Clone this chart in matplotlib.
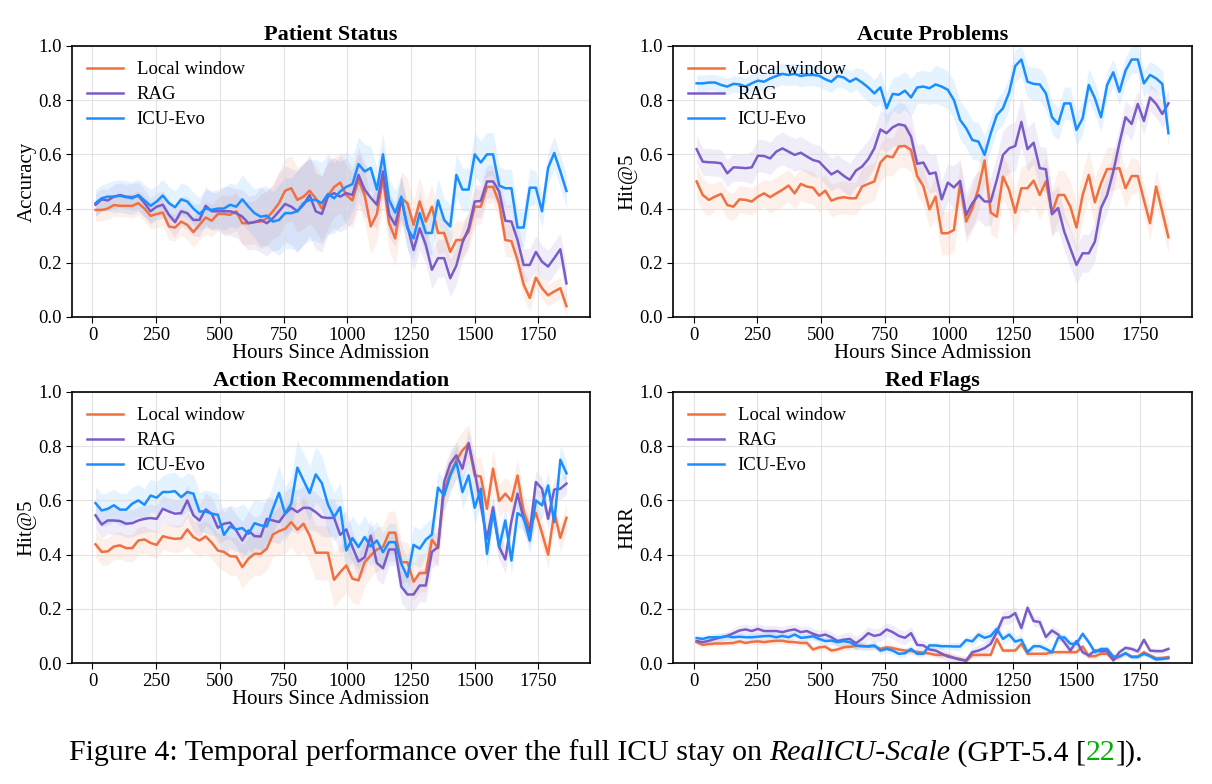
import numpy as np
import matplotlib
matplotlib.use("Agg")
import matplotlib.pyplot as plt

plt.rcParams['font.family'] = ['Liberation Serif', 'DejaVu Serif']

# 24h bins from admission
hours = np.arange(12, 1861, 24)
methods = ['Local window', 'RAG', 'ICU-Evo']
colors = ['#F0703F', '#7A5CC8', '#1A8EFF']

# Patient Status (accuracy)
ps_local = [0.395,0.395,0.40,0.413,0.41,0.41,0.41,0.42,0.40,0.373,
            0.38,0.385,0.334,0.33,0.352,0.34,0.313,0.34,0.367,0.355,
            0.38,0.38,0.377,0.39,0.346,0.346,0.35,0.352,0.364,0.39,
            0.42,0.466,0.475,0.432,0.444,0.466,0.438,0.40,0.447,0.479,
            0.496,0.45,0.43,0.506,0.45,0.334,0.38,0.51,0.346,0.29,
            0.438,0.42,0.34,0.426,0.352,0.407,0.31,0.31,0.24,0.284,
            0.284,0.315,0.407,0.407,0.48,0.48,0.42,0.284,0.28,0.21,
            0.12,0.07,0.145,0.106,0.08,0.094,0.106,0.04]
ps_rag = [0.414,0.434,0.43,0.444,0.45,0.444,0.442,0.447,0.42,0.39,
          0.407,0.414,0.377,0.35,0.39,0.383,0.358,0.358,0.41,0.39,
          0.39,0.39,0.39,0.383,0.37,0.346,0.35,0.358,0.346,0.364,
          0.39,0.417,0.407,0.39,0.414,0.45,0.39,0.38,0.444,0.457,
          0.444,0.457,0.45,0.524,0.47,0.44,0.414,0.537,0.377,0.34,
          0.434,0.334,0.247,0.327,0.266,0.174,0.217,0.217,0.143,0.19,
          0.275,0.327,0.426,0.428,0.5,0.5,0.463,0.355,0.352,0.284,
          0.192,0.192,0.24,0.204,0.186,0.217,0.25,0.124]
ps_evo = [0.42,0.438,0.444,0.444,0.447,0.442,0.438,0.45,0.43,0.41,
          0.426,0.448,0.42,0.405,0.434,0.426,0.40,0.38,0.40,0.395,
          0.40,0.40,0.414,0.407,0.434,0.407,0.383,0.37,0.374,0.352,
          0.358,0.383,0.383,0.39,0.42,0.432,0.432,0.42,0.454,0.438,
          0.463,0.48,0.49,0.564,0.537,0.55,0.47,0.6,0.432,0.385,
          0.444,0.327,0.29,0.383,0.31,0.31,0.43,0.358,0.334,0.524,
          0.47,0.47,0.6,0.57,0.6,0.6,0.485,0.475,0.475,0.33,
          0.33,0.477,0.477,0.39,0.55,0.605,0.537,0.465]

# Acute Problems (Hit@5)
ap_local = [0.50,0.45,0.432,0.444,0.454,0.413,0.407,0.434,0.432,0.426,
            0.444,0.456,0.442,0.456,0.469,0.485,0.456,0.491,0.481,0.477,
            0.448,0.466,0.429,0.438,0.442,0.438,0.438,0.481,0.491,0.50,
            0.57,0.594,0.589,0.629,0.631,0.616,0.52,0.483,0.397,0.444,
            0.309,0.309,0.321,0.49,0.352,0.40,0.475,0.577,0.385,0.37,
            0.518,0.469,0.385,0.475,0.475,0.503,0.45,0.50,0.383,0.45,
            0.45,0.407,0.33,0.45,0.524,0.423,0.493,0.546,0.546,0.549,
            0.475,0.52,0.52,0.432,0.346,0.481,0.389,0.294]
ap_rag = [0.619,0.573,0.571,0.57,0.567,0.53,0.552,0.551,0.549,0.552,
          0.595,0.594,0.585,0.61,0.622,0.61,0.598,0.606,0.592,0.579,
          0.573,0.549,0.526,0.539,0.521,0.506,0.54,0.555,0.582,0.622,
          0.692,0.678,0.70,0.711,0.706,0.665,0.565,0.57,0.528,0.533,
          0.434,0.496,0.478,0.502,0.376,0.42,0.45,0.426,0.426,0.506,
          0.598,0.622,0.631,0.72,0.619,0.643,0.549,0.545,0.379,0.402,
          0.315,0.253,0.192,0.235,0.235,0.278,0.402,0.45,0.536,0.641,
          0.737,0.712,0.786,0.723,0.81,0.786,0.749,0.788]
ap_evo = [0.862,0.862,0.865,0.865,0.856,0.85,0.86,0.858,0.85,0.862,
          0.872,0.868,0.88,0.889,0.897,0.893,0.897,0.889,0.893,0.893,
          0.89,0.877,0.868,0.889,0.884,0.868,0.88,0.865,0.847,0.825,
          0.847,0.77,0.823,0.82,0.835,0.81,0.847,0.85,0.844,0.858,
          0.85,0.838,0.80,0.727,0.696,0.653,0.647,0.598,0.678,0.745,
          0.77,0.828,0.926,0.95,0.868,0.86,0.858,0.825,0.737,0.712,
          0.788,0.788,0.69,0.733,0.856,0.807,0.737,0.856,0.903,0.831,
          0.909,0.95,0.95,0.862,0.893,0.88,0.86,0.678]

# Action Recommendation (Hit@5)
ar_local = [0.438,0.41,0.412,0.43,0.434,0.424,0.424,0.452,0.456,0.443,
            0.436,0.468,0.462,0.458,0.46,0.493,0.465,0.452,0.467,0.444,
            0.415,0.41,0.394,0.393,0.354,0.385,0.403,0.403,0.422,0.474,
            0.487,0.495,0.52,0.492,0.514,0.471,0.407,0.407,0.407,0.307,
            0.335,0.36,0.311,0.305,0.372,0.397,0.419,0.428,0.481,0.481,
            0.372,0.372,0.30,0.332,0.332,0.455,0.424,0.637,0.70,0.748,
            0.785,0.809,0.692,0.688,0.569,0.717,0.598,0.625,0.598,0.692,
            0.557,0.50,0.554,0.48,0.40,0.557,0.462,0.536]
ar_rag = [0.545,0.511,0.526,0.526,0.524,0.514,0.516,0.526,0.532,0.535,
          0.532,0.569,0.559,0.551,0.553,0.60,0.545,0.526,0.567,0.551,
          0.499,0.514,0.518,0.489,0.452,0.489,0.468,0.467,0.532,0.526,
          0.52,0.551,0.572,0.557,0.573,0.572,0.557,0.538,0.535,0.536,
          0.473,0.493,0.428,0.375,0.39,0.47,0.369,0.35,0.419,0.419,
          0.282,0.253,0.253,0.286,0.286,0.41,0.428,0.668,0.735,0.766,
          0.717,0.812,0.705,0.582,0.458,0.575,0.428,0.382,0.524,0.625,
          0.532,0.483,0.668,0.643,0.532,0.64,0.643,0.662]
ar_evo = [0.59,0.563,0.569,0.582,0.566,0.566,0.588,0.60,0.584,0.618,
          0.61,0.631,0.631,0.634,0.612,0.631,0.625,0.559,0.559,0.551,
          0.547,0.473,0.504,0.493,0.498,0.477,0.516,0.508,0.504,0.569,
          0.628,0.551,0.588,0.721,0.674,0.627,0.696,0.664,0.585,0.538,
          0.575,0.415,0.461,0.428,0.465,0.43,0.452,0.409,0.446,0.446,
          0.366,0.317,0.436,0.422,0.455,0.474,0.647,0.618,0.692,0.742,
          0.631,0.692,0.573,0.643,0.403,0.557,0.428,0.526,0.378,0.553,
          0.538,0.452,0.60,0.582,0.655,0.52,0.75,0.70]

# Red Flags (HRR)
rf_local = [0.077,0.067,0.07,0.072,0.072,0.073,0.074,0.08,0.074,0.078,
            0.08,0.077,0.08,0.082,0.082,0.078,0.077,0.074,0.074,0.05,
            0.058,0.06,0.046,0.05,0.058,0.06,0.063,0.063,0.06,0.062,
            0.052,0.058,0.055,0.05,0.046,0.044,0.041,0.038,0.035,0.03,
            0.03,0.028,0.019,0.015,0.007,0.03,0.03,0.03,0.03,0.089,
            0.046,0.046,0.046,0.071,0.034,0.034,0.034,0.034,0.04,0.04,
            0.04,0.04,0.04,0.061,0.025,0.025,0.034,0.034,0.012,0.024,
            0.036,0.024,0.024,0.04,0.028,0.018,0.019,0.022]
rf_rag = [0.081,0.077,0.082,0.089,0.095,0.10,0.11,0.12,0.124,0.118,
          0.126,0.118,0.118,0.118,0.114,0.12,0.124,0.114,0.118,0.108,
          0.10,0.105,0.095,0.081,0.086,0.089,0.073,0.089,0.11,0.10,
          0.105,0.124,0.114,0.10,0.093,0.11,0.067,0.065,0.05,0.046,
          0.035,0.024,0.019,0.012,0.01,0.04,0.046,0.055,0.071,0.114,
          0.167,0.169,0.184,0.129,0.204,0.155,0.151,0.096,0.12,0.105,
          0.077,0.046,0.081,0.04,0.028,0.046,0.043,0.044,0.01,0.04,
          0.056,0.052,0.043,0.086,0.046,0.044,0.044,0.052]
rf_evo = [0.092,0.089,0.095,0.095,0.095,0.099,0.095,0.097,0.095,0.095,
          0.097,0.099,0.10,0.095,0.10,0.095,0.105,0.093,0.095,0.099,
          0.089,0.081,0.083,0.077,0.081,0.077,0.065,0.062,0.062,0.065,
          0.046,0.052,0.046,0.034,0.036,0.052,0.034,0.034,0.065,0.065,
          0.062,0.062,0.061,0.061,0.085,0.08,0.105,0.093,0.10,0.126,
          0.089,0.105,0.079,0.086,0.04,0.062,0.062,0.052,0.04,0.093,
          0.095,0.071,0.071,0.108,0.077,0.04,0.052,0.052,0.024,0.024,
          0.036,0.022,0.022,0.034,0.025,0.013,0.015,0.018]

# band half-widths, read every 3 bins (72h)
ps_local_sd = [0.04,0.04,0.045,0.05,0.05,0.055,0.06,0.07,0.08,0.1,0.12,0.12,0.12,0.11,0.1,0.1,0.1,0.09,0.08,0.07,0.07,0.06,0.06,0.05,0.04,0.04]
ps_rag_sd = [0.04,0.045,0.05,0.05,0.055,0.06,0.07,0.09,0.1,0.12,0.14,0.15,0.14,0.13,0.1,0.09,0.08,0.08,0.07,0.07,0.06,0.06,0.06,0.06,0.06,0.06]
ps_evo_sd = [0.05,0.06,0.06,0.06,0.06,0.06,0.07,0.08,0.09,0.11,0.13,0.15,0.15,0.13,0.1,0.08,0.08,0.08,0.08,0.08,0.08,0.08,0.07,0.07,0.06,0.06]
ap_local_sd = [0.06,0.05,0.05,0.05,0.06,0.06,0.06,0.06,0.06,0.07,0.07,0.08,0.07,0.08,0.08,0.08,0.08,0.08,0.09,0.09,0.09,0.09,0.08,0.07,0.06,0.06]
ap_rag_sd = [0.05,0.05,0.05,0.06,0.06,0.06,0.06,0.06,0.06,0.07,0.07,0.08,0.07,0.07,0.08,0.09,0.09,0.09,0.08,0.08,0.07,0.07,0.07,0.06,0.05,0.05]
ap_evo_sd = [0.03,0.03,0.03,0.035,0.04,0.04,0.04,0.04,0.04,0.05,0.06,0.07,0.06,0.07,0.07,0.07,0.06,0.06,0.06,0.06,0.06,0.06,0.05,0.05,0.05,0.05]
ar_local_sd = [0.05,0.05,0.05,0.05,0.05,0.06,0.06,0.07,0.08,0.08,0.09,0.1,0.1,0.1,0.09,0.08,0.08,0.07,0.07,0.07,0.07,0.07,0.06,0.06,0.05,0.05]
ar_rag_sd = [0.05,0.05,0.05,0.05,0.05,0.06,0.06,0.06,0.07,0.08,0.08,0.08,0.07,0.07,0.06,0.06,0.06,0.06,0.06,0.05,0.05,0.05,0.05,0.05,0.04,0.04]
ar_evo_sd = [0.06,0.06,0.06,0.06,0.07,0.07,0.08,0.08,0.09,0.09,0.1,0.1,0.1,0.09,0.08,0.07,0.07,0.07,0.06,0.06,0.06,0.05,0.05,0.05,0.05,0.05]
rf_local_sd = [0.01,0.01,0.01,0.012,0.012,0.012,0.012,0.012,0.012,0.012,0.012,0.012,0.01,0.01,0.01,0.01,0.01,0.01,0.01,0.01,0.01,0.01,0.008,0.008,0.008,0.008]
rf_rag_sd = [0.012,0.015,0.02,0.02,0.02,0.02,0.02,0.02,0.025,0.025,0.025,0.025,0.02,0.02,0.015,0.02,0.025,0.025,0.02,0.018,0.015,0.012,0.012,0.012,0.01,0.01]
rf_evo_sd = [0.012,0.015,0.015,0.015,0.015,0.015,0.015,0.015,0.015,0.015,0.015,0.015,0.012,0.012,0.015,0.018,0.02,0.02,0.015,0.015,0.015,0.012,0.01,0.01,0.01,0.01]

panels = [
    ('Patient Status', 'Accuracy', [ps_local, ps_rag, ps_evo], [ps_local_sd, ps_rag_sd, ps_evo_sd]),
    ('Acute Problems', 'Hit@5', [ap_local, ap_rag, ap_evo], [ap_local_sd, ap_rag_sd, ap_evo_sd]),
    ('Action Recommendation', 'Hit@5', [ar_local, ar_rag, ar_evo], [ar_local_sd, ar_rag_sd, ar_evo_sd]),
    ('Red Flags', 'HRR', [rf_local, rf_rag, rf_evo], [rf_local_sd, rf_rag_sd, rf_evo_sd]),
]

fig = plt.figure(figsize=(12.12, 7.84), dpi=100)
rects = [[0.0594, 0.5957, 0.4274, 0.3457], [0.5553, 0.5957, 0.4282, 0.3457],
         [0.0594, 0.1543, 0.4274, 0.3457], [0.5553, 0.1543, 0.4282, 0.3457]]

for rect, (title, ylab, series, sds) in zip(rects, panels):
    ax = fig.add_axes(rect)
    for name, col, y, sd in zip(methods, colors, series, sds):
        y = np.array(y)
        s = np.repeat(sd, 3)[:len(y)]
        ax.fill_between(hours, np.clip(y - s, 0, 1), np.clip(y + s, 0, 1),
                        color=col, alpha=0.11, linewidth=0)
        ax.plot(hours, y, color=col, lw=1.8, label=name)
    ax.set_ylim(0, 1.0)
    ax.set_xticks([0, 250, 500, 750, 1000, 1250, 1500, 1750])
    ax.set_yticks([0.0, 0.2, 0.4, 0.6, 0.8, 1.0])
    ax.grid(True, color='#dddddd', lw=0.8, alpha=0.8)
    ax.tick_params(labelsize=13.5, length=4)
    ax.set_title(title, fontsize=16, fontweight='bold', pad=4)
    ax.set_ylabel(ylab, fontsize=15, labelpad=1)
    ax.set_xlabel('Hours Since Admission', fontsize=15, labelpad=0)
    for sp in ax.spines.values():
        sp.set_linewidth(1.2)
    ax.legend(loc='upper left', frameon=False, fontsize=13.5,
              handlelength=1.9, handletextpad=0.75, labelspacing=0.42,
              borderaxespad=0.4)

# caption with mixed styles
renderer = fig.canvas.get_renderer()
parts = [('Figure 4: Temporal performance over the full ICU stay on ', 'normal', 'black'),
         ('RealICU-Scale', 'italic', 'black'),
         (' (GPT-5.4 [', 'normal', 'black'),
         ('22', 'normal', '#00B000'),
         (']).', 'normal', 'black')]
texts = []
total = 0
for s, st, c in parts:
    t = fig.text(0, 0.03, s, fontsize=21.5, style=st, color=c, va='baseline')
    w = t.get_window_extent(renderer).width
    texts.append((t, w))
    total += w
x = (fig.bbox.width - total) / 2
for t, w in texts:
    t.set_x(x / fig.bbox.width)
    x += w

fig.savefig('out.png', dpi=100)
